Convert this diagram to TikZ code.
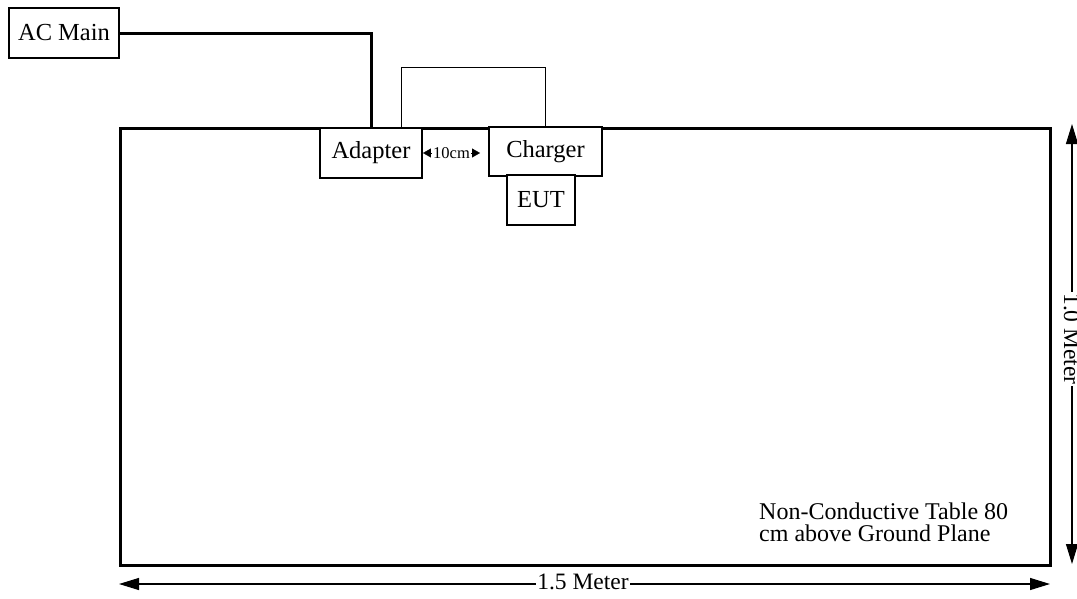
\documentclass[tikz,border=0pt]{standalone}
\usepackage{fontspec}
\setmainfont{Liberation Serif}
\usetikzlibrary{arrows.meta}
\begin{document}
\begin{tikzpicture}[x=1pt,y=-1pt,
  box/.style={draw,line width=1.2pt,inner sep=0pt,font=\fontsize{24.5}{28}\selectfont},
  dimarrow/.style={line width=1.2pt,{Triangle[length=20pt,width=12pt]}-{Triangle[length=20pt,width=12pt]}},
  smalltip/.style={line width=0.4pt,-{Triangle[length=8pt,width=9pt]}},
  dimlabel/.style={fill=white,inner sep=1pt,font=\fontsize{23.5}{26}\selectfont}]
\useasboundingbox (0,0) rectangle (1077,598);
% table
\node[draw,line width=3pt,minimum width=930pt,minimum height=437pt,inner sep=0pt] (table) at (585,346.5) {};
% boxes
\node[box,minimum width=110pt,minimum height=50pt] (ac) at (64,33) {AC Main};
\node[box,minimum width=102pt,minimum height=50pt,fill=white] (adapter) at (371,153) {Adapter};
\node[box,minimum width=113pt,minimum height=49pt,fill=white] (charger) at (545.5,151.5) {Charger};
\node[box,minimum width=68pt,minimum height=50pt,fill=white] (eut) at (541,200) {EUT};
% cables
\draw[line width=3pt] (ac.east) -| (adapter.north);
\draw[line width=0.9pt] ([xshift=30pt]adapter.north) -- ++(0,-60) -| (charger.north);
% 10 cm
\node[inner sep=0pt,font=\fontsize{16.5}{18}\selectfont] (ten) at (451.5,153) {10cm};
\draw[smalltip] ([xshift=-1pt]ten.west) -- ([xshift=-10pt]ten.west);
\draw[smalltip] ([xshift=1pt]ten.east) -- ([xshift=10pt]ten.east);
% table text
\node[anchor=north west,inner sep=0pt,align=left,font=\fontsize{24}{22}\selectfont] (note) at (759,503)
  {Non-Conductive Table 80\\cm above Ground Plane};
% dimensions
\coordinate (hl) at (119,584);
\coordinate (hr) at (1050,584);
\draw[dimarrow] (hl) -- (hr);
\node[dimlabel] (hlab) at (583,582) {1.5 Meter};
\coordinate (vt) at (1072,124);
\coordinate (vb) at (1072,564);
\draw[dimarrow] (vt) -- (vb);
\node[dimlabel,rotate=-90,anchor=base] (vlab) at (1064,339) {1.0 Meter};
\end{tikzpicture}
\end{document}
